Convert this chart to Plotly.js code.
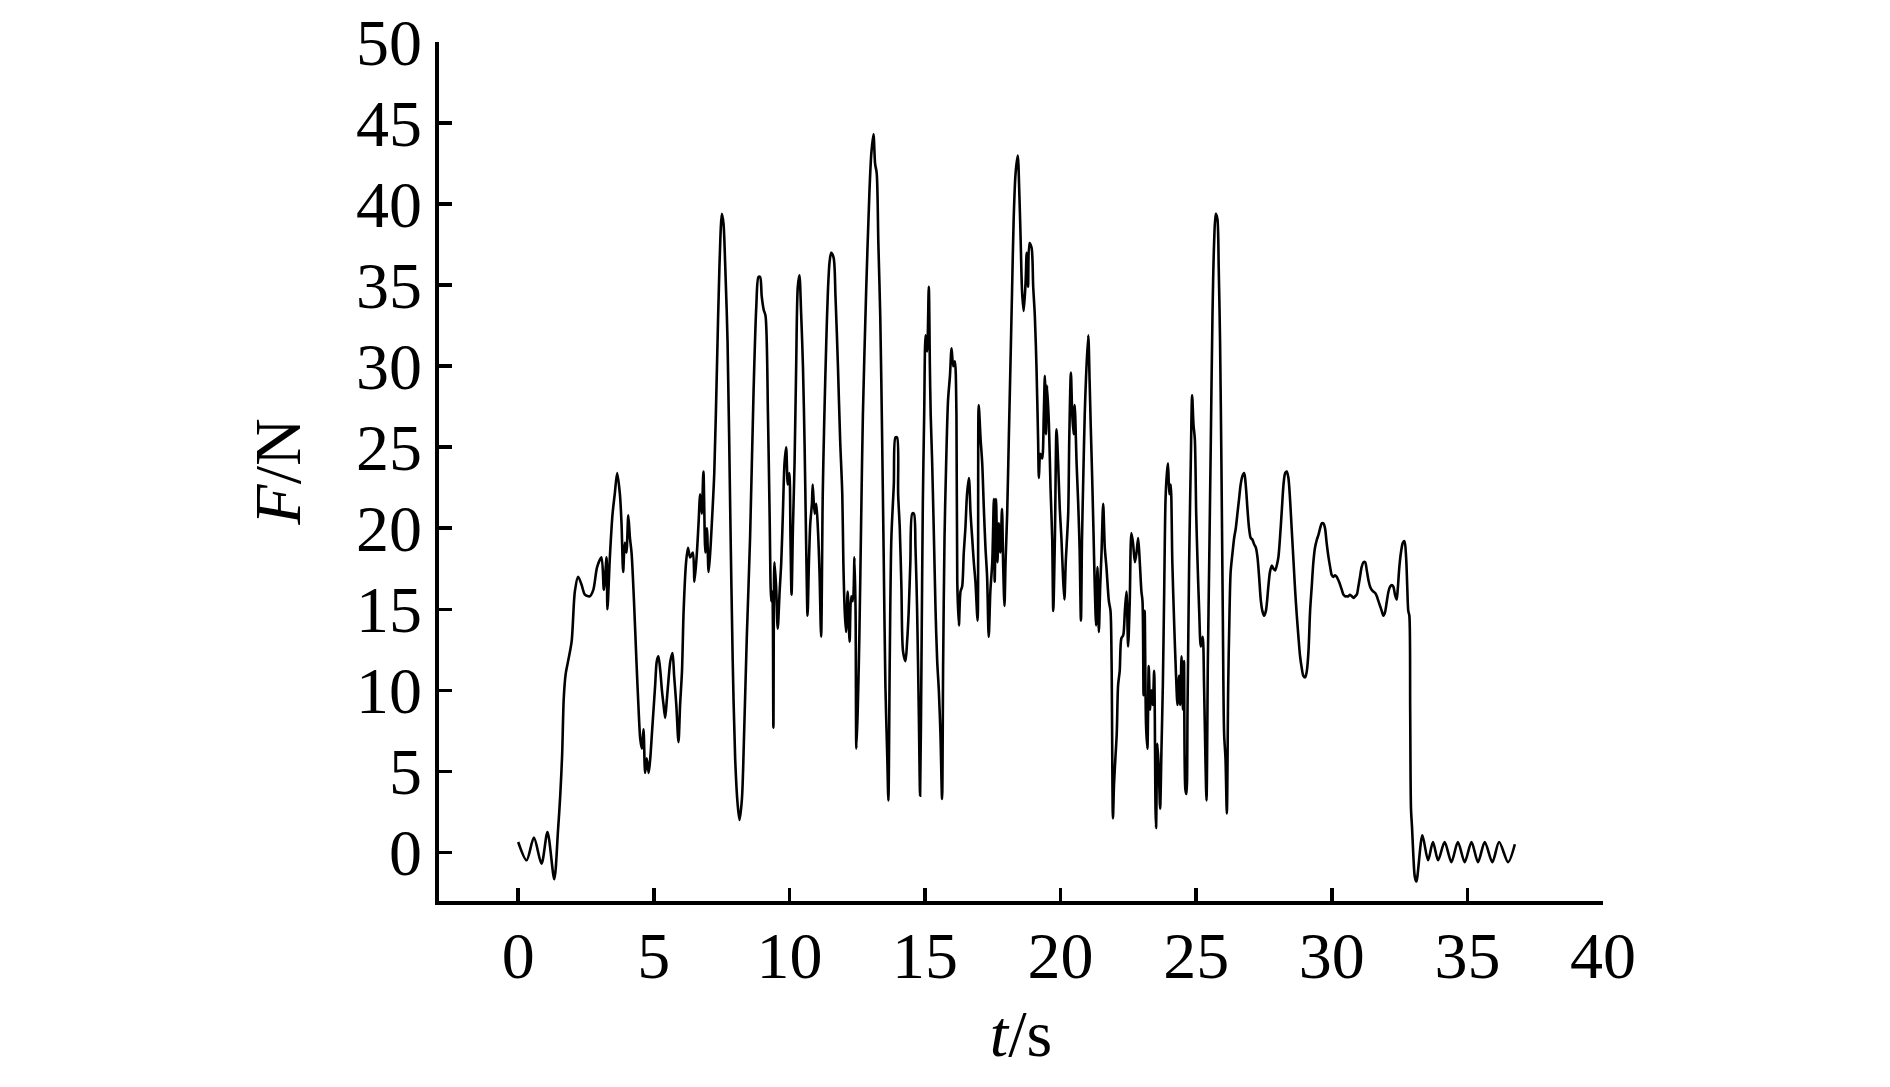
<!DOCTYPE html>
<html>
<head>
<meta charset="utf-8">
<script src="https://cdn.plot.ly/plotly-3.0.1.min.js"></script>
<style>
  html, body { margin: 0; padding: 0; background: #fff; }
  #plotArea { width: 1890px; height: 1087px; }
</style>
</head>
<body>
<div id="plotArea"></div>
<script>
// time in s
var time = [
    0.00, 0.31, 0.58, 0.86, 1.08, 1.33, 1.47, 1.55, 1.62, 1.68,
    1.75, 1.84, 1.97, 2.09, 2.21, 2.34, 2.46, 2.64, 2.77, 2.91,
    3.07, 3.16, 3.26, 3.29, 3.38, 3.48, 3.56, 3.65, 3.75, 3.81,
    3.87, 3.93, 3.99, 4.06, 4.12, 4.18, 4.27, 4.36, 4.44, 4.50,
    4.56, 4.62, 4.68, 4.74, 4.81, 4.87, 4.93, 4.99, 5.05, 5.11,
    5.17, 5.24, 5.30, 5.36, 5.42, 5.48, 5.54, 5.61, 5.69, 5.75,
    5.83, 5.91, 5.97, 6.04, 6.10, 6.19, 6.26, 6.34, 6.44, 6.50,
    6.59, 6.65, 6.71, 6.77, 6.83, 6.90, 6.96, 7.02, 7.08, 7.14,
    7.23, 7.33, 7.42, 7.51, 7.57, 7.63, 7.72, 7.82, 7.91, 8.00,
    8.09, 8.16, 8.25, 8.33, 8.43, 8.55, 8.68, 8.78, 8.86, 8.92,
    8.98, 9.05, 9.12, 9.21, 9.27, 9.33, 9.37, 9.41, 9.45, 9.51,
    9.57, 9.64, 9.70, 9.76, 9.82, 9.88, 9.94, 10.00, 10.04, 10.08,
    10.13, 10.19, 10.25, 10.31, 10.37, 10.43, 10.50, 10.56, 10.62, 10.67,
    10.72, 10.77, 10.83, 10.86, 10.93, 10.99, 11.05, 11.11, 11.17, 11.23,
    11.29, 11.36, 11.42, 11.48, 11.54, 11.63, 11.70, 11.79, 11.87, 11.95,
    11.99, 12.04, 12.09, 12.15, 12.22, 12.28, 12.34, 12.40, 12.44, 12.47,
    12.52, 12.58, 12.65, 12.71, 12.83, 12.95, 13.02, 13.10, 13.16, 13.22,
    13.28, 13.35, 13.42, 13.48, 13.54, 13.61, 13.65, 13.70, 13.76, 13.85,
    13.91, 13.97, 14.01, 14.07, 14.13, 14.19, 14.28, 14.34, 14.40, 14.46,
    14.53, 14.59, 14.65, 14.71, 14.77, 14.82, 14.87, 14.92, 14.97, 15.02,
    15.08, 15.14, 15.18, 15.21, 15.26, 15.33, 15.39, 15.45, 15.51, 15.57,
    15.63, 15.67, 15.72, 15.78, 15.85, 15.92, 15.98, 16.04, 16.10, 16.16,
    16.19, 16.25, 16.31, 16.37, 16.43, 16.49, 16.55, 16.62, 16.68, 16.74,
    16.80, 16.86, 16.94, 16.98, 17.05, 17.11, 17.17, 17.23, 17.29, 17.35,
    17.41, 17.48, 17.54, 17.57, 17.62, 17.67, 17.72, 17.78, 17.84, 17.88,
    17.93, 17.97, 18.03, 18.09, 18.15, 18.21, 18.27, 18.34, 18.42, 18.48,
    18.53, 18.58, 18.64, 18.71, 18.75, 18.80, 18.85, 18.93, 18.99, 19.05,
    19.11, 19.17, 19.20, 19.25, 19.32, 19.38, 19.42, 19.46, 19.50, 19.57,
    19.63, 19.69, 19.73, 19.79, 19.85, 19.91, 19.97, 20.03, 20.09, 20.14,
    20.19, 20.28, 20.32, 20.38, 20.43, 20.48, 20.52, 20.59, 20.65, 20.70,
    20.75, 20.79, 20.84, 20.89, 20.94, 21.02, 21.07, 21.11, 21.16, 21.21,
    21.26, 21.31, 21.36, 21.41, 21.46, 21.51, 21.57, 21.63, 21.69, 21.78,
    21.84, 21.88, 21.93, 21.97, 22.02, 22.07, 22.12, 22.18, 22.24, 22.31,
    22.37, 22.43, 22.49, 22.55, 22.61, 22.67, 22.74, 22.80, 22.86, 22.92,
    22.98, 23.02, 23.06, 23.10, 23.15, 23.20, 23.25, 23.30, 23.35, 23.40,
    23.45, 23.50, 23.52, 23.57, 23.62, 23.67, 23.72, 23.77, 23.82, 23.87,
    23.92, 23.96, 24.01, 24.06, 24.12, 24.19, 24.25, 24.31, 24.37, 24.41,
    24.46, 24.51, 24.55, 24.60, 24.64, 24.68, 24.74, 24.80, 24.85, 24.90,
    24.95, 25.00, 25.05, 25.11, 25.17, 25.24, 25.29, 25.34, 25.38, 25.43,
    25.48, 25.54, 25.60, 25.66, 25.72, 25.78, 25.83, 25.88, 25.93, 25.98,
    26.03, 26.08, 26.13, 26.18, 26.23, 26.27, 26.34, 26.40, 26.46, 26.52,
    26.58, 26.64, 26.70, 26.77, 26.83, 26.89, 26.95, 27.01, 27.07, 27.14,
    27.20, 27.26, 27.32, 27.38, 27.44, 27.50, 27.57, 27.66, 27.72, 27.79,
    27.85, 27.91, 27.97, 28.03, 28.09, 28.16, 28.22, 28.28, 28.34, 28.40,
    28.46, 28.52, 28.59, 28.65, 28.71, 28.77, 28.83, 28.89, 28.95, 29.02,
    29.08, 29.14, 29.20, 29.26, 29.32, 29.38, 29.45, 29.51, 29.57, 29.63,
    29.69, 29.75, 29.81, 29.88, 29.94, 30.00, 30.06, 30.12, 30.18, 30.24,
    30.31, 30.37, 30.43, 30.49, 30.55, 30.61, 30.67, 30.74, 30.80, 30.86,
    30.92, 30.98, 31.04, 31.10, 31.17, 31.23, 31.29, 31.35, 31.41, 31.47,
    31.53, 31.60, 31.66, 31.72, 31.78, 31.84, 31.90, 31.96, 32.03, 32.09,
    32.15, 32.21, 32.27, 32.33, 32.39, 32.43, 32.49, 32.55, 32.62, 32.68,
    32.74, 32.78, 32.82, 32.86, 32.89, 32.92, 32.96, 33.01, 33.06, 33.12,
    33.34, 33.55, 33.73, 33.92, 34.16, 34.41, 34.65, 34.90, 35.15, 35.39,
    35.64, 35.92, 36.17, 36.50, 36.75
];

// force in N, same order as time
var force = [
    0.64, -0.49, 0.91, -0.70, 1.26, -1.65, 1.4, 3.5, 6.0, 9.5,
    11.0, 11.8, 13.0, 16.1, 17.0, 16.5, 15.9, 15.8, 16.2, 17.6,
    18.2, 16.2, 18.2, 15.0, 18.2, 20.9, 22.1, 23.4, 22.1, 20.3,
    17.3, 19.1, 18.5, 20.8, 19.4, 18.5, 15.5, 11.8, 8.8, 7.0,
    6.4, 7.6, 4.9, 5.8, 4.9, 5.8, 7.3, 8.8, 10.3, 11.8,
    12.1, 11.2, 10.0, 9.1, 8.3, 9.4, 10.6, 11.8, 12.3, 10.9,
    9.1, 6.8, 9.1, 11.2, 14.9, 17.9, 18.8, 18.2, 18.5, 16.7,
    18.5, 20.3, 22.1, 20.9, 23.5, 18.5, 20.0, 17.3, 18.5, 20.3,
    23.4, 30.0, 36.1, 39.4, 38.8, 36.4, 31.5, 20.9, 11.8, 5.8,
    3.0, 2.0, 3.3, 7.3, 13.3, 19.4, 28.5, 33.7, 35.5, 35.5,
    34.3, 33.5, 33.1, 27.0, 20.9, 15.5, 16.1, 7.7, 17.9, 16.4,
    13.8, 16.1, 17.9, 20.9, 24.0, 25.0, 22.7, 23.4, 19.4, 15.9,
    20.0, 24.0, 30.0, 34.9, 35.6, 33.4, 30.0, 25.2, 18.8, 14.6,
    17.9, 20.3, 21.5, 22.7, 20.9, 21.5, 20.0, 17.3, 13.3, 22.1,
    27.0, 31.5, 34.6, 36.4, 37.0, 36.7, 34.3, 30.0, 25.5, 22.1,
    17.9, 14.9, 13.6, 16.1, 13.0, 15.8, 15.5, 18.2, 14.9, 6.4,
    8.8, 13.3, 20.9, 27.0, 34.6, 40.7, 43.1, 44.3, 42.5, 41.9,
    37.6, 33.1, 25.5, 17.9, 10.3, 5.8, 3.2, 11.8, 19.4, 22.7,
    25.6, 25.6, 22.1, 20.0, 16.4, 12.4, 11.8, 13.0, 14.9, 17.9,
    20.9, 20.9, 18.8, 14.9, 8.8, 3.5, 11.8, 21.5, 27.0, 31.9,
    30.9, 34.9, 30.0, 27.0, 24.3, 19.4, 14.9, 11.8, 10.0, 7.3,
    3.3, 11.8, 19.4, 24.0, 27.9, 29.4, 31.1, 30.0, 30.3, 27.0,
    16.7, 14.0, 16.1, 16.4, 18.5, 20.0, 22.1, 23.1, 20.9, 19.4,
    17.9, 16.7, 14.3, 27.6, 25.5, 24.0, 21.2, 18.8, 17.0, 13.3,
    16.1, 17.9, 21.8, 16.7, 21.8, 17.9, 20.3, 18.5, 21.2, 17.9,
    15.2, 17.9, 20.9, 25.5, 30.0, 34.6, 39.1, 41.9, 43.0, 40.6,
    37.6, 34.6, 33.4, 35.2, 37.0, 34.9, 37.6, 37.3, 34.9, 33.1,
    30.0, 25.5, 23.1, 24.6, 24.3, 27.0, 29.4, 25.8, 28.8, 26.4,
    22.4, 19.4, 14.9, 19.4, 26.1, 24.0, 21.2, 19.4, 17.0, 15.6,
    17.9, 20.9, 25.5, 29.6, 27.0, 25.8, 27.6, 24.0, 21.5, 18.8,
    14.3, 19.4, 23.4, 27.0, 29.4, 31.9, 29.1, 26.4, 23.4, 20.0,
    16.4, 14.0, 17.6, 13.6, 16.4, 18.5, 21.5, 18.8, 17.6, 15.5,
    14.9, 11.8, 2.1, 4.2, 5.8, 7.3, 10.3, 11.2, 13.2, 13.4,
    14.9, 16.1, 12.7, 15.5, 19.7, 19.1, 17.9, 18.5, 19.4, 17.9,
    16.1, 15.5, 9.7, 14.9, 7.9, 6.4, 11.5, 8.8, 10.0, 9.1,
    11.2, 2.7, 1.5, 6.7, 5.2, 2.7, 6.4, 10.3, 16.1, 21.8,
    23.4, 24.0, 22.1, 22.7, 17.9, 14.0, 11.2, 9.1, 10.9, 9.1,
    12.1, 8.8, 11.8, 3.9, 3.6, 8.8, 17.9, 24.0, 28.2, 26.4,
    25.5, 20.9, 17.9, 14.9, 12.7, 13.3, 10.3, 5.8, 3.2, 11.8,
    17.9, 25.5, 33.1, 37.6, 39.4, 39.1, 36.1, 31.5, 24.0, 14.9,
    7.3, 5.8, 2.4, 10.3, 14.9, 17.3, 18.5, 19.4, 20.0, 20.9,
    21.8, 22.7, 23.2, 23.4, 22.6, 21.2, 20.0, 19.4, 19.3, 19.0,
    18.8, 18.2, 17.0, 15.6, 14.9, 14.6, 14.9, 16.4, 17.3, 17.7,
    17.5, 17.4, 17.7, 18.2, 19.4, 21.2, 22.7, 23.4, 23.5, 23.1,
    21.8, 20.0, 17.9, 16.1, 14.6, 13.3, 12.1, 11.4, 10.9, 10.8,
    11.2, 12.4, 14.9, 16.4, 17.9, 18.8, 19.3, 19.6, 20.0, 20.3,
    20.3, 20.0, 19.1, 18.2, 17.6, 17.1, 17.0, 17.1, 17.0, 16.8,
    16.5, 16.2, 15.9, 15.8, 15.8, 15.8, 15.9, 15.8, 15.7, 15.8,
    15.9, 16.4, 17.0, 17.6, 17.9, 17.9, 17.4, 16.8, 16.4, 16.2,
    16.1, 16.0, 15.8, 15.5, 15.2, 14.9, 14.6, 14.8, 15.5, 16.1,
    16.4, 16.5, 16.4, 15.9, 15.6, 16.2, 17.6, 18.5, 19.1, 19.2,
    18.2, 16.5, 14.9, 14.6, 8.8, 2.7, 1.5, -0.3, -1.5, -1.8,
    1.05, -0.49, 0.64, -0.49, 0.64, -0.6, 0.64, -0.6, 0.64, -0.6,
    0.64, -0.6, 0.64, -0.6, 0.5
];

var xTicks = [0, 5, 10, 15, 20, 25, 30, 35, 40];
var yTicks = [0, 5, 10, 15, 20, 25, 30, 35, 40, 45, 50];

var trace = {
    x: time,
    y: force,
    type: "scatter",
    mode: "lines",
    line: {color: "black", width: 2.6, shape: "spline", smoothing: 0.8},
    hoverinfo: "skip"
};

var serif = "Liberation Serif, Times New Roman, serif";

var layout = {
    width: 1890,
    height: 1087,
    margin: {l: 439, r: 287, t: 42, b: 186, pad: 0},
    paper_bgcolor: "white",
    plot_bgcolor: "white",
    showlegend: false,
    font: {family: serif, color: "black", size: 66},
    xaxis: {
        range: [-2.92, 40],
        tickvals: xTicks,
        ticktext: xTicks.map(String),
        ticks: "inside",
        ticklen: 13,
        tickwidth: 3.5,
        tickcolor: "black",
        showline: true,
        linewidth: 3.8,
        linecolor: "black",
        showgrid: false,
        zeroline: false,
        ticklabelstandoff: -6,
        tickfont: {family: serif, size: 66, color: "black"},
        title: {text: "<i>t</i>/s", font: {family: serif, size: 66, color: "black"}, standoff: 20}
    },
    yaxis: {
        range: [-3, 50],
        tickvals: yTicks,
        ticktext: yTicks.map(String),
        ticks: "inside",
        ticklen: 13,
        tickwidth: 3.5,
        tickcolor: "black",
        showline: true,
        linewidth: 3.8,
        linecolor: "black",
        showgrid: false,
        zeroline: false,
        tickfont: {family: serif, size: 66, color: "black"},
        title: {text: "<i>F</i>/N", font: {family: serif, size: 66, color: "black"}, standoff: 35}
    }
};

Plotly.newPlot("plotArea", [trace], layout, {staticPlot: true});
</script>
</body>
</html>
